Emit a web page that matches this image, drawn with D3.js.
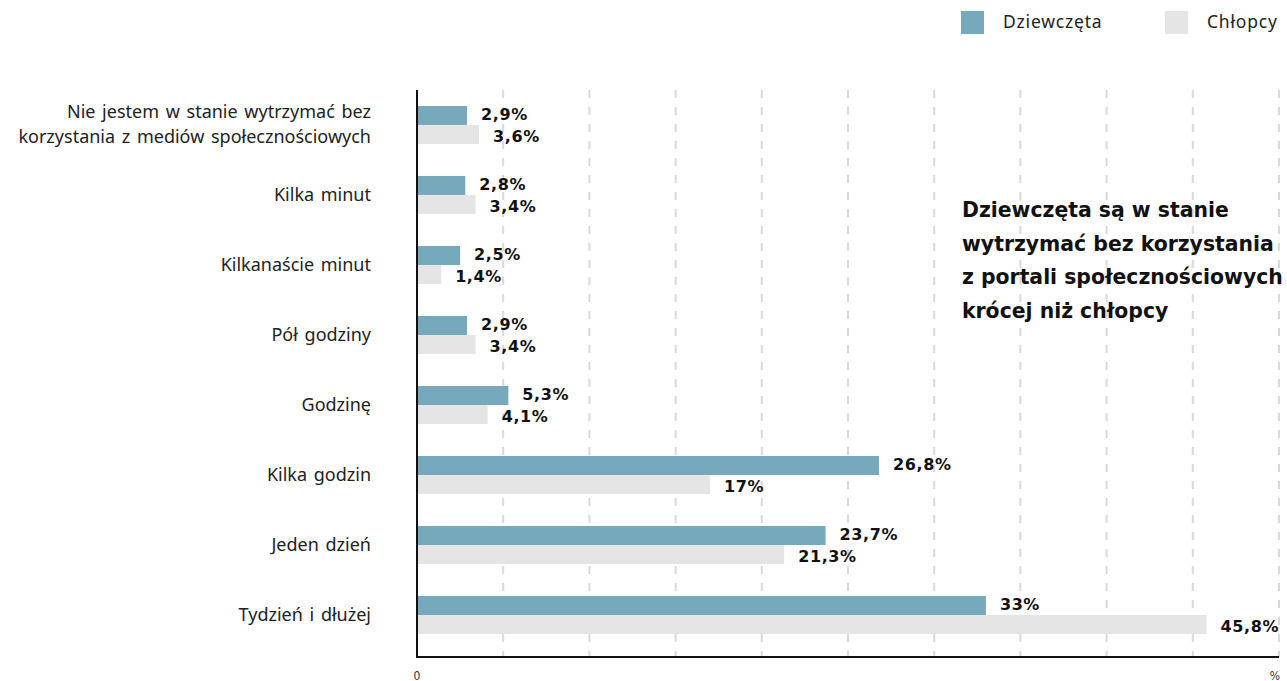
<!DOCTYPE html>
<html><head><meta charset="utf-8">
<script src="https://cdn.jsdelivr.net/npm/d3@7"></script>
<style>
html,body{margin:0;padding:0;background:#fff;}
svg{display:block;}
.cat{font-family:"Noto Sans",Lato,sans-serif;font-size:18px;word-spacing:2px;fill:#222;}
.val{font-family:"DejaVu Sans",sans-serif;font-weight:700;font-size:16px;letter-spacing:0.6px;fill:#111;}
.leg{font-family:"Noto Sans",Lato,sans-serif;font-size:17.5px;letter-spacing:0.8px;fill:#222;}
.note{font-family:"DejaVu Sans",sans-serif;font-weight:700;font-size:20.4px;fill:#111;}
.tick{font-family:"DejaVu Sans Condensed","DejaVu Sans",sans-serif;font-size:12px;fill:#333;}
</style></head>
<body>
<svg id="chart" width="1287" height="681"></svg>
<script>
const categories = [
  ["Nie jestem w stanie wytrzymać bez", "korzystania z mediów społecznościowych"],
  ["Kilka minut"],
  ["Kilkanaście minut"],
  ["Pół godziny"],
  ["Godzinę"],
  ["Kilka godzin"],
  ["Jeden dzień"],
  ["Tydzień i dłużej"]
];
const girls = [2.9, 2.8, 2.5, 2.9, 5.3, 26.8, 23.7, 33];
const boys  = [3.6, 3.4, 1.4, 3.4, 4.1, 17, 21.3, 45.8];
const seriesNames = ["Dziewczęta", "Chłopcy"];
const seriesColors = ["#77a9bd", "#e5e5e5"];
const gridTicks = [5, 10, 15, 20, 25, 30, 35, 40, 45, 50];
const axisLabels = [{v: 0, t: "0"}, {v: 50, t: "%"}];
const noteLines = ["Dziewczęta są w stanie", "wytrzymać bez korzystania", "z portali społecznościowych", "krócej niż chłopcy"];

const svg = d3.select("#chart");
const x = d3.scaleLinear().domain([0, 50]).range([417, 1279]);
const y = d3.scaleBand().domain(d3.range(categories.length)).range([90, 650]).paddingInner(0.457).paddingOuter(0.228);
const sub = d3.scaleBand().domain([0, 1]).range([0, y.bandwidth()]);

const plotTop = 90, plotBottom = 657;
// grid
svg.append("g").selectAll("line").data(gridTicks).join("line")
  .attr("x1", d => x(d)).attr("x2", d => x(d))
  .attr("y1", plotTop).attr("y2", plotBottom)
  .attr("stroke", "#d9d9d9").attr("stroke-width", 2).attr("stroke-dasharray", "8,9");

const fmt = v => String(v).replace(".", ",") + "%";
const data = [];
categories.forEach((c, i) => {
  data.push({i, s: 0, v: girls[i]});
  data.push({i, s: 1, v: boys[i]});
});

svg.append("g").selectAll("rect").data(data).join("rect")
  .attr("x", x(0)).attr("y", d => y(d.i) + sub(d.s))
  .attr("width", d => x(d.v) - x(0)).attr("height", sub.bandwidth())
  .attr("fill", d => seriesColors[d.s]);

svg.append("g").selectAll("text").data(data).join("text")
  .attr("class", "val")
  .attr("x", d => x(d.v) + 14)
  .attr("y", d => y(d.i) + sub(d.s) + sub.bandwidth() / 2 + (d.s === 0 ? -1.5 : 2))
  .attr("dy", "0.36em")
  .text(d => fmt(d.v));

// category labels
const cg = svg.append("g").selectAll("text").data(categories).join("text")
  .attr("class", "cat").attr("text-anchor", "end")
  .attr("x", 371)
  .attr("y", (d, i) => y(i) + y.bandwidth() / 2);
cg.selectAll("tspan").data(d => d.map((t, k) => ({t, k, n: d.length}))).join("tspan")
  .attr("x", 371)
  .attr("dy", d => d.k === 0 ? ((-(d.n - 1) * 25 / 2) + 6) + "px" : "25px")
  .text(d => d.t);

// axes
svg.append("line").attr("x1", x(0)).attr("x2", x(0)).attr("y1", plotTop).attr("y2", plotBottom + 1)
  .attr("stroke", "#111").attr("stroke-width", 2);
svg.append("line").attr("x1", x(0) - 1).attr("x2", x(50)).attr("y1", plotBottom).attr("y2", plotBottom)
  .attr("stroke", "#111").attr("stroke-width", 2);
svg.append("g").selectAll("text").data(axisLabels).join("text")
  .attr("class", "tick").attr("text-anchor", "middle")
  .attr("x", d => x(d.v) - (d.v === 50 ? 4 : 0)).attr("y", 680)
  .text(d => d.t);

// legend
const lg = svg.append("g");
const legX = [961, 1165];
seriesNames.forEach((n, k) => {
  lg.append("rect").attr("x", legX[k]).attr("y", 11).attr("width", 23).attr("height", 23).attr("fill", seriesColors[k]);
  lg.append("text").attr("class", "leg").attr("x", legX[k] + 42).attr("y", 28).text(n);
});

// note
svg.append("g").selectAll("text").data(noteLines).join("text")
  .attr("class", "note").attr("x", 962)
  .attr("y", (d, i) => 217 + i * 33.7)
  .text(d => d);
</script>
</body></html>
